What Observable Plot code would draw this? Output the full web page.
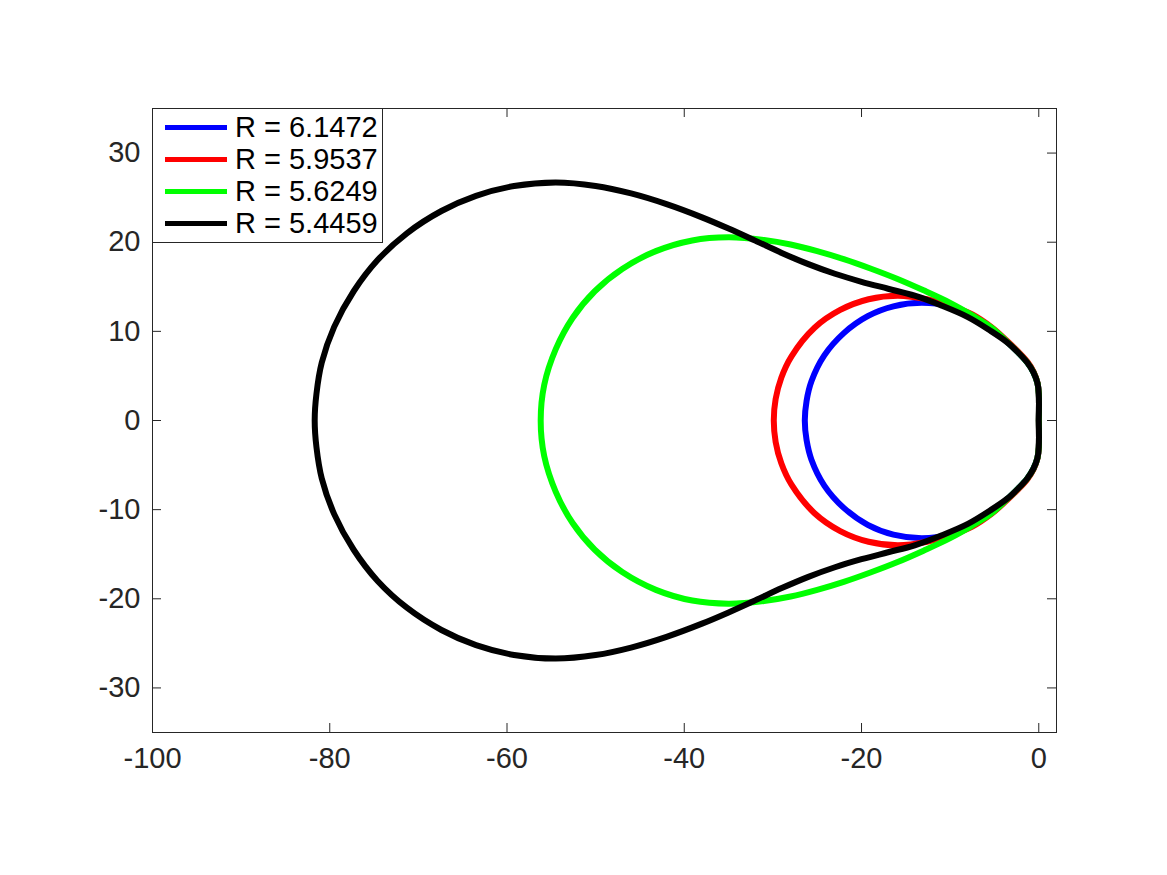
<!DOCTYPE html>
<html><head><meta charset="utf-8">
<script src="https://cdn.jsdelivr.net/npm/d3@7"></script>
<script src="https://cdn.jsdelivr.net/npm/@observablehq/plot@0.6"></script>
<style>
body{margin:0;background:#fff;}
#wrap{position:relative;width:1167px;height:875px;font-family:"Liberation Sans",Arial,Helvetica,sans-serif;color:#262626;}
#legend{position:absolute;left:152px;top:108px;width:231px;height:135px;border:1px solid #262626;background:#fff;box-sizing:border-box;}
.item{position:absolute;left:0;height:32px;display:flex;align-items:center;white-space:nowrap;}
.sw{display:inline-block;width:62px;height:5px;margin-left:12px;margin-right:8px;}
.lab{font-size:29px;color:#000;}
</style></head><body><div id="wrap"></div>
<script>
// Series labels and colours
const labels = ["R = 6.1472", "R = 5.9537", "R = 5.6249", "R = 5.4459"];
const colors = ["#0000ff", "#ff0000", "#00ff00", "#000000"];
const xTicks = [-100, -80, -60, -40, -20, 0];
const yTicks = [-30, -20, -10, 0, 10, 20, 30];

// Closed curves, [x, y]: upper half right->left, then lower half left->right
const blue = [
  [0,0],[0,3.0],[-0.15,4.2],[-0.6,5.4],[-1.3,6.5],[-2.3,7.6],[-3.6,8.85],[-5.3,10.3],[-7.5,11.8],[-10.0,12.8],[-13.2,13.2],
  [-16.4,12.8],[-19.3,11.7],[-22.0,9.8],[-24.2,7.3],[-25.65,4.4],[-26.2,2.2],[-26.4,0],
  [-26.2,-2.2],[-25.65,-4.4],[-24.2,-7.3],[-22.0,-9.8],[-19.3,-11.7],[-16.4,-12.8],
  [-13.2,-13.2],[-10.0,-12.8],[-7.5,-11.8],[-5.3,-10.3],[-3.6,-8.85],[-2.3,-7.6],[-1.3,-6.5],[-0.6,-5.4],[-0.15,-4.2],[0,-3.0],[0,0]
];
const red = [
  [0,0],[0,3.0],[-0.15,4.25],[-0.6,5.5],[-1.3,6.6],[-2.3,7.7],[-3.6,8.95],[-5.3,10.45],[-7.5,11.9],[-10.0,12.9],[-12.6,13.6],
  [-15.9,14.0],[-19.2,13.6],[-22.4,12.4],[-25.3,10.4],[-27.9,7.2],[-29.05,4.8],[-29.69,2.4],[-29.9,0],
  [-29.69,-2.4],[-29.05,-4.8],[-27.9,-7.2],[-25.3,-10.4],[-22.4,-12.4],[-19.2,-13.6],[-15.9,-14.0],
  [-12.6,-13.6],[-10.0,-12.9],[-7.5,-11.9],[-5.3,-10.45],[-3.6,-8.95],[-2.3,-7.7],[-1.3,-6.6],[-0.6,-5.5],[-0.15,-4.25],[0,-3.0],[0,0]
];
const green = [
  [0,0],[0,3.0],[-0.15,4.2],[-0.6,5.4],[-1.3,6.5],[-2.3,7.6],[-3.6,8.85],[-5.3,10.4],[-7.5,11.8],[-10.0,13.2],[-13.0,14.6],
  [-16.0,15.9],[-19.0,17.05],[-22.0,18.1],[-25.0,19.0],[-28.0,19.75],[-31.0,20.25],[-35.0,20.55],
  [-39.1,20.2],[-43.2,19.0],[-47.0,17.0],[-50.1,14.5],[-52.6,11.5],[-54.5,8.0],[-55.8,4.0],[-56.2,0],
  [-55.8,-4.0],[-54.5,-8.0],[-52.6,-11.5],[-50.1,-14.5],[-47.0,-17.0],[-43.2,-19.0],[-39.1,-20.2],
  [-35.0,-20.55],[-31.0,-20.25],[-28.0,-19.75],[-25.0,-19.0],[-22.0,-18.1],[-19.0,-17.05],[-16.0,-15.9],
  [-13.0,-14.6],[-10.0,-13.2],[-7.5,-11.8],[-5.3,-10.4],[-3.6,-8.85],[-2.3,-7.6],[-1.3,-6.5],[-0.6,-5.4],[-0.15,-4.2],[0,-3.0],[0,0]
];
const black = [
  [0,0],[0,3.0],[-0.15,4.2],[-0.6,5.4],[-1.3,6.5],[-2.3,7.6],[-3.6,8.8],[-5.5,10.1],[-8.0,11.6],[-11.0,12.9],[-14.0,14.0],
  [-17.0,14.78],[-20.0,15.56],[-23.0,16.46],[-26.0,17.54],[-29.0,18.8],[-32.0,20.18],[-35.0,21.53],[-38.0,22.79],
  [-42.0,24.27],[-46.0,25.47],[-50.0,26.31],[-54.5,26.7],[-59.2,26.3],[-63.5,25.2],[-67.4,23.5],[-71.3,21.0],
  [-74.6,18.0],[-77.3,14.5],[-79.5,10.5],[-80.9,6.5],[-81.5,3.0],[-81.7,0],
  [-81.5,-3.0],[-80.9,-6.5],[-79.5,-10.5],[-77.3,-14.5],[-74.6,-18.0],[-71.3,-21.0],[-67.4,-23.5],[-63.5,-25.2],
  [-59.2,-26.3],[-54.5,-26.7],[-50.0,-26.31],[-46.0,-25.47],[-42.0,-24.27],[-38.0,-22.79],[-35.0,-21.53],[-32.0,-20.18],
  [-29.0,-18.8],[-26.0,-17.54],[-23.0,-16.46],[-20.0,-15.56],[-17.0,-14.78],[-14.0,-14.0],
  [-11.0,-12.9],[-8.0,-11.6],[-5.5,-10.1],[-3.6,-8.8],[-2.3,-7.6],[-1.3,-6.5],[-0.6,-5.4],[-0.15,-4.2],[0,-3.0],[0,0]
];

const series = [blue, red, green, black];
const font = '"Liberation Sans", Arial, Helvetica, sans-serif';
const frameW = 1167 - 152 - 111, frameH = 875 - 108 - 143, tl = 9;

const chart = Plot.plot({
  width: 1167, height: 875,
  marginLeft: 152, marginRight: 111, marginTop: 108, marginBottom: 143,
  style: {fontFamily: font, fontSize: "29px", color: "#262626", background: "#fff", overflow: "visible"},
  x: {domain: [-100, 2]},
  y: {domain: [-35, 35]},
  marks: [
    ...series.map((pts, i) => Plot.line(pts, {x: d => d[0], y: d => d[1], stroke: colors[i], strokeWidth: 6, curve: "catmull-rom", strokeLinejoin: "round"})),
    Plot.frame({stroke: "#262626", strokeWidth: 1}),
    Plot.tickX(xTicks, {x: d => d, stroke: "#262626", insetTop: frameH - tl}),
    Plot.tickX(xTicks, {x: d => d, stroke: "#262626", insetBottom: frameH - tl}),
    Plot.tickY(yTicks, {y: d => d, stroke: "#262626", insetRight: frameW - tl}),
    Plot.tickY(yTicks, {y: d => d, stroke: "#262626", insetLeft: frameW - tl}),
    Plot.axisX({ticks: xTicks, tickSize: 0, tickPadding: 15, fontSize: 29, label: null, tickFormat: d => String(d), fill: "#262626"}),
    Plot.axisY({ticks: yTicks, tickSize: 0, tickPadding: 12, fontSize: 29, label: null, tickFormat: d => String(d), fill: "#262626"})
  ]
});
const wrap = document.getElementById("wrap");
wrap.appendChild(chart);

const leg = document.createElement("div");
leg.id = "legend";
labels.forEach((l, i) => {
  const it = document.createElement("div");
  it.className = "item";
  it.style.top = (2 + i * 32) + "px";
  const sw = document.createElement("span");
  sw.className = "sw"; sw.style.background = colors[i];
  const tx = document.createElement("span");
  tx.className = "lab"; tx.textContent = l;
  it.appendChild(sw); it.appendChild(tx);
  leg.appendChild(it);
});
wrap.appendChild(leg);
</script>
</body></html>
